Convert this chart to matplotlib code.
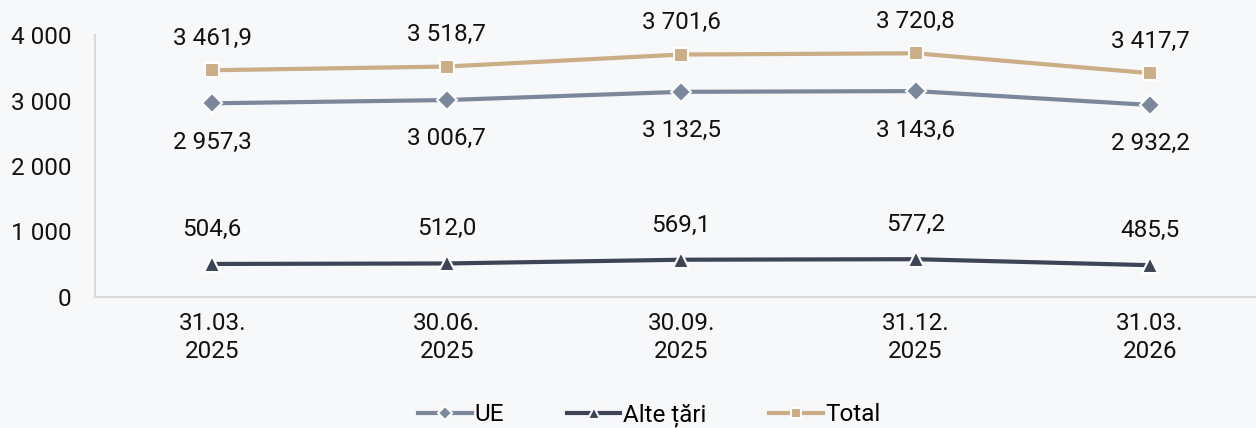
import numpy as np
import matplotlib.pyplot as plt
from matplotlib import rcParams
rcParams['font.family'] = ['Roboto', 'DejaVu Sans']
rcParams['font.size'] = 17.5

# data
dates = ['31.03.\n2025', '30.06.\n2025', '30.09.\n2025', '31.12.\n2025', '31.03.\n2026']
ue = [2957.3, 3006.7, 3132.5, 3143.6, 2932.2]
alte = [504.6, 512.0, 569.1, 577.2, 485.5]
total = [3461.9, 3518.7, 3701.6, 3720.8, 3417.7]
yticks = [0, 1000, 2000, 3000, 4000]

bg = '#f7f8fa'
c_ue = '#7b889c'
c_alte = '#3d4455'
c_total = '#cbad86'

def fmt(v, dec=1):
    s = '{:,.{d}f}'.format(v, d=dec)
    return s.replace(',', ' ').replace('.', ',')

fig = plt.figure(figsize=(12.56, 4.28), dpi=100, facecolor=bg)
ax = fig.add_axes([95/1256, 1 - 297/428, (1256 - 95)/1256, (297 - 35)/428])
ax.set_facecolor(bg)

x = np.arange(len(dates))
ax.plot(x, ue, color=c_ue, lw=3, marker='D', ms=10, mfc=c_ue, mec='white', mew=1.5, label='UE')
ax.plot(x, alte, color=c_alte, lw=3, marker='^', ms=12, mfc=c_alte, mec='white', mew=1.5, label='Alte țări')
ax.plot(x, total, color=c_total, lw=3, marker='s', ms=10, mfc=c_total, mec='white', mew=1.5, label='Total')

for i in range(len(x)):
    ax.annotate(fmt(total[i]), (x[i], total[i]), xytext=(0, 23), textcoords='offset points',
                ha='center', va='center', color='#111111')
    ax.annotate(fmt(ue[i]), (x[i], ue[i]), xytext=(0, -28), textcoords='offset points',
                ha='center', va='center', color='#111111')
    ax.annotate(fmt(alte[i]), (x[i], alte[i]), xytext=(0, 25), textcoords='offset points',
                ha='center', va='center', color='#111111')

ax.set_xlim(-0.5, 4.452)
ax.set_ylim(0, 4000)
ax.set_xticks(x)
ax.set_xticklabels(dates, linespacing=1.25)
ax.set_yticks(yticks)
ax.set_yticklabels([fmt(v, 0) for v in yticks])
ax.tick_params(axis='both', length=0, colors='#111111')
ax.tick_params(axis='x', pad=11)
ax.tick_params(axis='y', pad=17)
for s in ['top', 'right']:
    ax.spines[s].set_visible(False)
for s in ['left', 'bottom']:
    ax.spines[s].set_color('#d9d9d9')
    ax.spines[s].set_linewidth(1.5)

fig.legend(loc='center', bbox_to_anchor=(0.517, 1 - 415/428), ncol=3, frameon=False,
           handlelength=2.2, columnspacing=2.6, handletextpad=0.1, markerscale=0.75)

fig.savefig('out.png', dpi=100, facecolor=bg)
